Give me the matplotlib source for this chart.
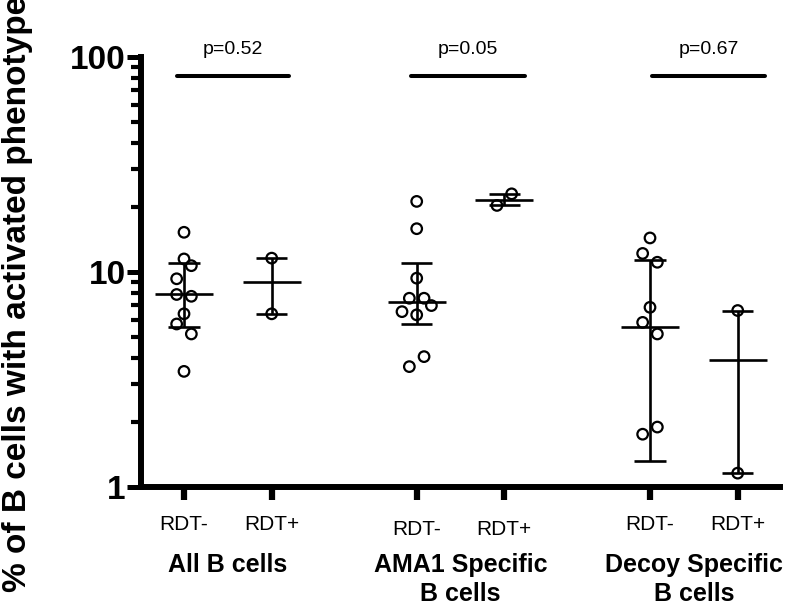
import matplotlib
matplotlib.use("Agg")
import matplotlib.pyplot as plt
import matplotlib.transforms as mtransforms
from matplotlib.ticker import FixedLocator, NullFormatter, FixedFormatter

plt.rcParams['font.family'] = ['Liberation Sans', 'DejaVu Sans']

# ---------------- data ----------------
groups_line1 = ["All B cells", "AMA1 Specific", "Decoy Specific"]
groups_line2 = ["", "B cells", "B cells"]
subgroups = ["RDT-", "RDT+"]
p_values = ["p=0.52", "p=0.05", "p=0.67"]

g1_neg = [15.3, 11.5, 10.7, 9.3, 7.86, 7.71, 6.39, 5.73, 5.15, 3.45]
g1_pos = [11.6, 6.39]
g2_neg = [21.3, 15.9, 9.36, 7.55, 7.55, 6.98, 6.54, 6.32, 4.04, 3.63]
g2_pos = [23.1, 20.4]
g3_neg = [14.4, 12.2, 11.1, 6.85, 5.83, 5.15, 1.90, 1.76]
g3_pos = [6.62, 1.16]

# centre line and error bar limits (low, high) per column
centers = [7.86, 8.97, 7.29, 21.7, 5.53, 3.90]
err_low = [5.57, 6.39, 5.73, 20.4, 1.32, 1.16]
err_high = [10.96, 11.6, 10.96, 23.1, 11.4, 6.62]

series = [g1_neg, g1_pos, g2_neg, g2_pos, g3_neg, g3_pos]

# horizontal scatter slots of the points (layout only)
slots = [
    [0, 0, 1, -1, -1, 1, 0, -1, 1, 0],
    [0, 0],
    [0, 0, 0, -1, 1, 2, -2, 0, 1, -1],
    [1, -1],
    [0, -1, 1, 0, -1, 1, 1, -1],
    [0, 0],
]

# ---------------- layout ----------------
W, H = 789, 605
fig = plt.figure(figsize=(W / 100, H / 100), dpi=100)
ax_l, ax_r, ax_t, ax_b = 141, 780, 57, 487
ax = fig.add_axes([ax_l / W, 1 - ax_b / H, (ax_r - ax_l) / W, (ax_b - ax_t) / H])

px_unit = 87.7
tick_px = [184, 271.7, 416.7, 504.3, 650, 737.7]
positions = [1 + (p - tick_px[0]) / px_unit for p in tick_px]
slot_w = 7.35 / px_unit

ax.set_yscale('log')
ax.set_ylim(1, 100)
ax.set_xlim(1 + (ax_l - tick_px[0]) / px_unit, 1 + (ax_r - tick_px[0]) / px_unit)

lw_err = 1.9
for i, (pos, vals) in enumerate(zip(positions, series)):
    xs = [pos + s * slot_w for s in slots[i]]
    ax.scatter(xs, vals, s=7.6 ** 2, facecolors='none', edgecolors='black',
               linewidths=1.6, zorder=3, clip_on=False)
    ax.vlines(pos, err_low[i], err_high[i], color='black', lw=lw_err, zorder=2)
    ax.hlines([err_low[i], err_high[i]], pos - 0.177, pos + 0.177, color='black', lw=lw_err, zorder=2)
    ax.hlines(centers[i], pos - 0.33, pos + 0.33, color='black', lw=lw_err, zorder=2)

# spines
for s in ['top', 'right']:
    ax.spines[s].set_visible(False)
for s in ['left', 'bottom']:
    ax.spines[s].set_linewidth(4.3)
    ax.spines[s].set_capstyle('projecting')

ax.yaxis.set_major_locator(FixedLocator([1, 10, 100]))
ax.yaxis.set_major_formatter(FixedFormatter(['1', '10', '100']))
minors = [m * d for d in (1, 10) for m in range(2, 10)]
ax.yaxis.set_minor_locator(FixedLocator(minors))
ax.yaxis.set_minor_formatter(NullFormatter())
ax.tick_params(axis='y', which='major', length=10, width=3.6, pad=1,
               labelsize=24)
ax.tick_params(axis='y', which='minor', length=7.5, width=3.0)
for lab in ax.get_yticklabels():
    lab.set_fontweight('bold')

ax.set_xticks(positions)
ax.set_xticklabels([''] * len(positions))
ax.tick_params(axis='x', which='major', length=9.4, width=4.5)

# x labels
trans = mtransforms.blended_transform_factory(ax.transData, fig.transFigure)
rdt_base = [530, 530, 535, 535, 530, 530]
for i, pos in enumerate(positions):
    ax.text(pos, 1 - rdt_base[i] / H, subgroups[i % 2], transform=trans,
            ha='center', va='baseline', fontsize=15)

for g in range(3):
    c = (positions[2 * g] + positions[2 * g + 1]) / 2
    ax.text(c, 1 - 572 / H, groups_line1[g], transform=trans, ha='center',
            va='baseline', fontsize=18, fontweight='bold')
    if groups_line2[g]:
        ax.text(c, 1 - 601 / H, groups_line2[g], transform=trans, ha='center',
                va='baseline', fontsize=18, fontweight='bold')

# p value bars
bar_px = [(177, 289), (411, 525), (652, 765)]
for g in range(3):
    x0 = 1 + (bar_px[g][0] - tick_px[0]) / px_unit
    x1 = 1 + (bar_px[g][1] - tick_px[0]) / px_unit
    yb = 10 ** ((486 - 76) / 214.5)
    ax.plot([x0, x1], [yb, yb], color='black', lw=2.9, solid_capstyle='round',
            clip_on=False)
    ax.text((x0 + x1) / 2, 1 - 54 / H, p_values[g], transform=trans,
            ha='center', va='baseline', fontsize=14)

fig.text(18 / W, 1 - 592 / H, "% of B cells with activated phenotype",
         rotation=90, ha='center', va='bottom', fontsize=24, fontweight='bold')

fig.savefig("out.png", dpi=100)
